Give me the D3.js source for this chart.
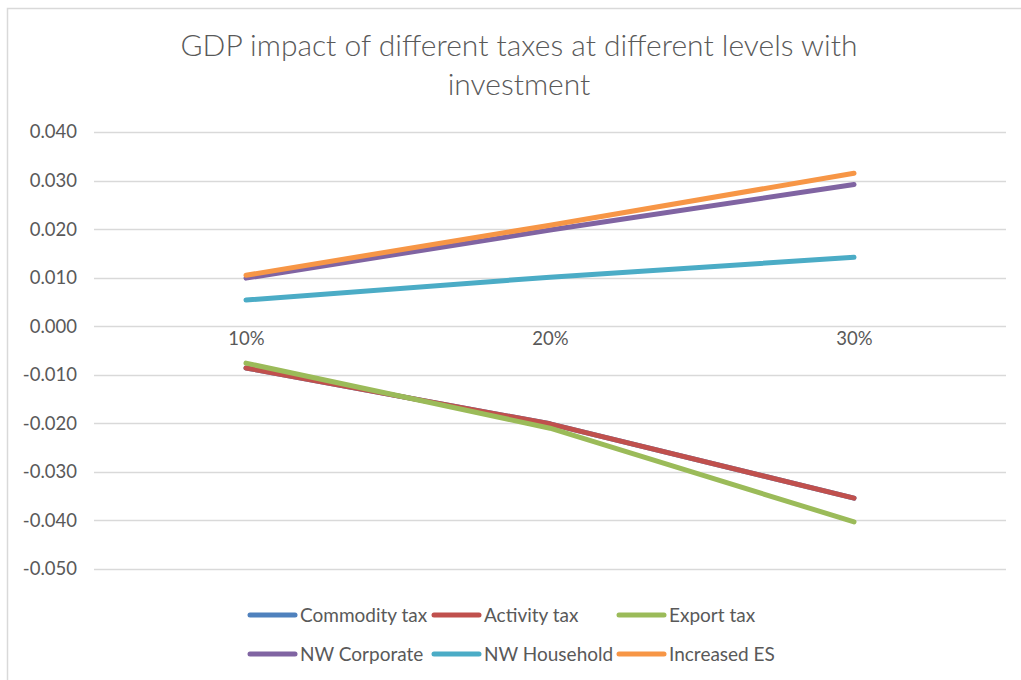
<!DOCTYPE html>
<html>
<head>
<meta charset="utf-8">
<script src="https://cdn.jsdelivr.net/npm/d3@7"></script>
<style>
  html, body { margin: 0; padding: 0; background: #fff; }
  svg { display: block; }
  text { font-family: Lato, "Open Sans", sans-serif; fill: #595959; }
</style>
</head>
<body>
<svg id="chart" width="1021" height="680"></svg>
<script>
// Tax levels on the x axis
const levels = ["10%", "20%", "30%"];

// GDP impact for each tax type
const commodityTax = [-0.0086, -0.0201, -0.0354];
const activityTax  = [-0.0086, -0.0201, -0.0354];
const exportTax    = [-0.0076, -0.0210, -0.0403];
const nwCorporate  = [0.0099, 0.0198, 0.0292];
const nwHousehold  = [0.0054, 0.0101, 0.0142];
const increasedES  = [0.0105, 0.0208, 0.0315];

const seriesNames  = ["Commodity tax", "Activity tax", "Export tax", "NW Corporate", "NW Household", "Increased ES"];
const seriesValues = [commodityTax, activityTax, exportTax, nwCorporate, nwHousehold, increasedES];
const seriesColors = ["#4F81BD", "#C0504D", "#9BBB59", "#8064A2", "#4BACC6", "#F79646"];

const yTicks = [0.04, 0.03, 0.02, 0.01, 0, -0.01, -0.02, -0.03, -0.04, -0.05];

const svg = d3.select("#chart");

// chart frame
svg.append("rect")
  .attr("x", 7.5).attr("y", 8.5)
  .attr("width", 1030).attr("height", 690)
  .attr("fill", "#fff")
  .attr("stroke", "#d9d9d9").attr("stroke-width", 1.5);

const plot = { left: 94, right: 1006, top: 132, bottom: 569 };

const x = d3.scalePoint()
  .domain(levels)
  .range([plot.left, plot.right])
  .padding(0.5);

const y = d3.scaleLinear()
  .domain([-0.05, 0.04])
  .range([plot.bottom, plot.top]);

// plain hyphen for negatives, three decimals
const fmt = d => d3.format(".3f")(d).replace("\u2212", "-");

// title
const title = svg.append("text")
  .attr("text-anchor", "middle")
  .style("font-size", "30px")
  .style("font-weight", 300);
title.append("tspan").attr("x", 519).attr("y", 56)
  .text("GDP impact of different taxes at different levels with");
title.append("tspan").attr("x", 519).attr("y", 95)
  .text("investment");

// horizontal gridlines
svg.append("g")
  .selectAll("line")
  .data(yTicks)
  .join("line")
  .attr("x1", plot.left).attr("x2", plot.right)
  .attr("y1", d => Math.round(y(d)) + 0.5)
  .attr("y2", d => Math.round(y(d)) + 0.5)
  .attr("stroke", "#d9d9d9").attr("stroke-width", 1.5);

// y axis labels
const yAxis = d3.axisLeft(y)
  .tickValues(yTicks)
  .tickFormat(fmt)
  .tickSize(0)
  .tickPadding(17);
const yg = svg.append("g")
  .attr("transform", `translate(${plot.left},0)`)
  .call(yAxis);
yg.select(".domain").remove();
yg.selectAll("text")
  .style("font-size", "18.5px")
  .style("font-family", "Lato, 'Open Sans', sans-serif")
  .attr("fill", "#595959");

// category labels sitting just under the zero line
const xAxis = d3.axisBottom(x).tickSize(0).tickPadding(19);
const xg = svg.append("g")
  .attr("transform", `translate(0,${y(0)})`)
  .call(xAxis);
xg.select(".domain").remove();
xg.selectAll("text")
  .attr("dy", "0")
  .style("font-size", "18.5px")
  .style("font-family", "Lato, 'Open Sans', sans-serif")
  .attr("fill", "#595959");

// series lines
const line = d3.line()
  .x((d, i) => x(levels[i]))
  .y(d => y(d));

svg.append("g")
  .selectAll("path")
  .data(seriesValues)
  .join("path")
  .attr("d", d => line(d))
  .attr("fill", "none")
  .attr("stroke", (d, i) => seriesColors[i])
  .attr("stroke-width", 5)
  .attr("stroke-linecap", "round")
  .attr("stroke-linejoin", "round");

// legend: two rows of three
const legendCols = [250, 434, 619];
const legendRows = [615, 654];
const legend = svg.append("g")
  .selectAll("g")
  .data(seriesNames)
  .join("g")
  .attr("transform", (d, i) => `translate(${legendCols[i % 3]},${legendRows[Math.floor(i / 3)]})`);

legend.append("line")
  .attr("x1", 0).attr("x2", 45)
  .attr("y1", 0).attr("y2", 0)
  .attr("stroke", (d, i) => seriesColors[i])
  .attr("stroke-width", 5)
  .attr("stroke-linecap", "round");

legend.append("text")
  .attr("x", 50)
  .attr("y", 0)
  .attr("dy", "0.35em")
  .style("font-size", "19px")
  .text(d => d);
</script>
</body>
</html>
